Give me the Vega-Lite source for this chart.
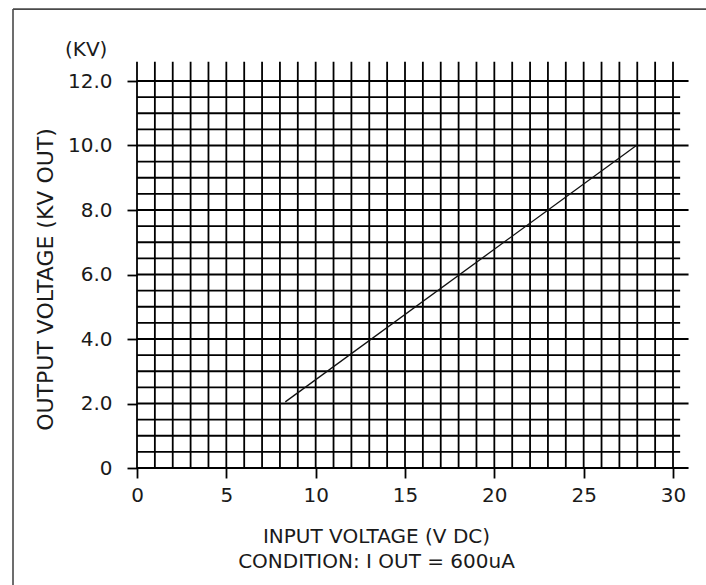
{
  "$schema": "https://vega.github.io/schema/vega-lite/v6.json",
  "autosize": "none",
  "width": 536,
  "height": 387,
  "padding": {"left": 137, "top": 81, "right": 33, "bottom": 117},
  "background": "white",
  "config": {"view": {"stroke": null}},
  "datasets": {
    "vgrid": [{"v":0},{"v":1},{"v":2},{"v":3},{"v":4},{"v":5},{"v":6},{"v":7},{"v":8},{"v":9},{"v":10},{"v":11},{"v":12},{"v":13},{"v":14},{"v":15},{"v":16},{"v":17},{"v":18},{"v":19},{"v":20},{"v":21},{"v":22},{"v":23},{"v":24},{"v":25},{"v":26},{"v":27},{"v":28},{"v":29},{"v":30}],
    "hgrid": [{"kv":0},{"kv":0.5},{"kv":1},{"kv":1.5},{"kv":2},{"kv":2.5},{"kv":3},{"kv":3.5},{"kv":4},{"kv":4.5},{"kv":5},{"kv":5.5},{"kv":6},{"kv":6.5},{"kv":7},{"kv":7.5},{"kv":8},{"kv":8.5},{"kv":9},{"kv":9.5},{"kv":10},{"kv":10.5},{"kv":11},{"kv":11.5},{"kv":12}],
    "curve": [{"vin": 8.3, "kv": 2.05}, {"vin": 27.95, "kv": 10.0}],
    "unit": [{"label": "(KV)"}]
  },
  "layer": [
    {
      "data": {"name": "unit"},
      "mark": {"type": "rule", "color": "#4a4a4a", "strokeWidth": 1.6},
      "encoding": {
        "x": {"datum": -6.94, "type": "quantitative"},
        "y": {"datum": -4, "type": "quantitative"},
        "y2": {"datum": 14.23}
      }
    },
    {
      "data": {"name": "unit"},
      "mark": {"type": "rule", "color": "#4a4a4a", "strokeWidth": 1.6},
      "encoding": {
        "y": {"datum": 14.23, "type": "quantitative"},
        "x": {"datum": -6.94, "type": "quantitative"},
        "x2": {"datum": 33}
      }
    },
    {
      "data": {"name": "vgrid"},
      "mark": {"type": "rule", "color": "#000000", "strokeWidth": 1.8},
      "encoding": {
        "x": {
          "field": "v", "type": "quantitative",
          "scale": {"domain": [0, 30], "nice": false, "zero": false},
          "title": ["INPUT VOLTAGE (V DC)", "CONDITION: I OUT = 600uA"],
          "axis": {
            "values": [0, 5, 10, 15, 20, 25, 30],
            "domain": false, "grid": false,
            "ticks": true, "tickSize": 10, "tickColor": "#000000", "tickWidth": 1.8,
            "labelFont": "DejaVu Sans", "labelFontSize": 20, "labelColor": "#1a1a1a", "labelPadding": 7,
            "labelFlush": false, "labelOverlap": false,
            "titleFont": "DejaVu Sans", "titleFontSize": 20, "titleFontWeight": "normal", "titleColor": "#1a1a1a",
            "titleAlign": "center", "titleAnchor": null, "titleX": 239, "titleY": 74,
            "titleBaseline": "alphabetic", "titleLineHeight": 25.5
          }
        },
        "y": {"datum": 0, "type": "quantitative"},
        "y2": {"datum": 12.6}
      }
    },
    {
      "data": {"name": "hgrid"},
      "transform": [{"filter": "datum.kv % 2 != 0"}],
      "mark": {"type": "rule", "color": "#000000", "strokeWidth": 1.8},
      "encoding": {
        "y": {
          "field": "kv", "type": "quantitative",
          "scale": {"domain": [0, 12], "nice": false, "zero": false},
          "title": "OUTPUT VOLTAGE (KV OUT)",
          "axis": {
            "values": [0, 2, 4, 6, 8, 10, 12],
            "labelExpr": "datum.value == 0 ? '0' : format(datum.value, '.1f')",
            "domain": false, "grid": false,
            "ticks": true, "tickSize": 10, "tickColor": "#000000", "tickWidth": 1.8,
            "labelFont": "DejaVu Sans", "labelFontSize": 20, "labelColor": "#1a1a1a", "labelPadding": 15,
            "labelFlush": false, "labelOverlap": false,
            "titleFont": "DejaVu Sans", "titleFontSize": 22, "titleFontWeight": "normal", "titleColor": "#1a1a1a",
            "titleAngle": -90, "titleAlign": "center", "titleAnchor": null, "titleX": -85, "titleY": 198,
            "titleBaseline": "alphabetic"
          }
        },
        "x": {"datum": 0, "type": "quantitative"},
        "x2": {"datum": 30.4}
      }
    },
    {
      "data": {"name": "hgrid"},
      "transform": [{"filter": "datum.kv % 2 == 0"}],
      "mark": {"type": "rule", "color": "#000000", "strokeWidth": 1.8},
      "encoding": {
        "y": {"field": "kv", "type": "quantitative"},
        "x": {"datum": 0, "type": "quantitative"},
        "x2": {"datum": 30.87}
      }
    },
    {
      "data": {"name": "curve"},
      "mark": {"type": "line", "color": "#111111", "strokeWidth": 1.3},
      "encoding": {
        "x": {"field": "vin", "type": "quantitative"},
        "y": {"field": "kv", "type": "quantitative"}
      }
    },
    {
      "data": {"name": "unit"},
      "mark": {"type": "text", "font": "DejaVu Sans", "fontSize": 20, "color": "#1a1a1a", "align": "left", "baseline": "alphabetic"},
      "encoding": {
        "text": {"field": "label"},
        "x": {"datum": -4.03, "type": "quantitative"},
        "y": {"datum": 12.76, "type": "quantitative"}
      }
    }
  ]
}
